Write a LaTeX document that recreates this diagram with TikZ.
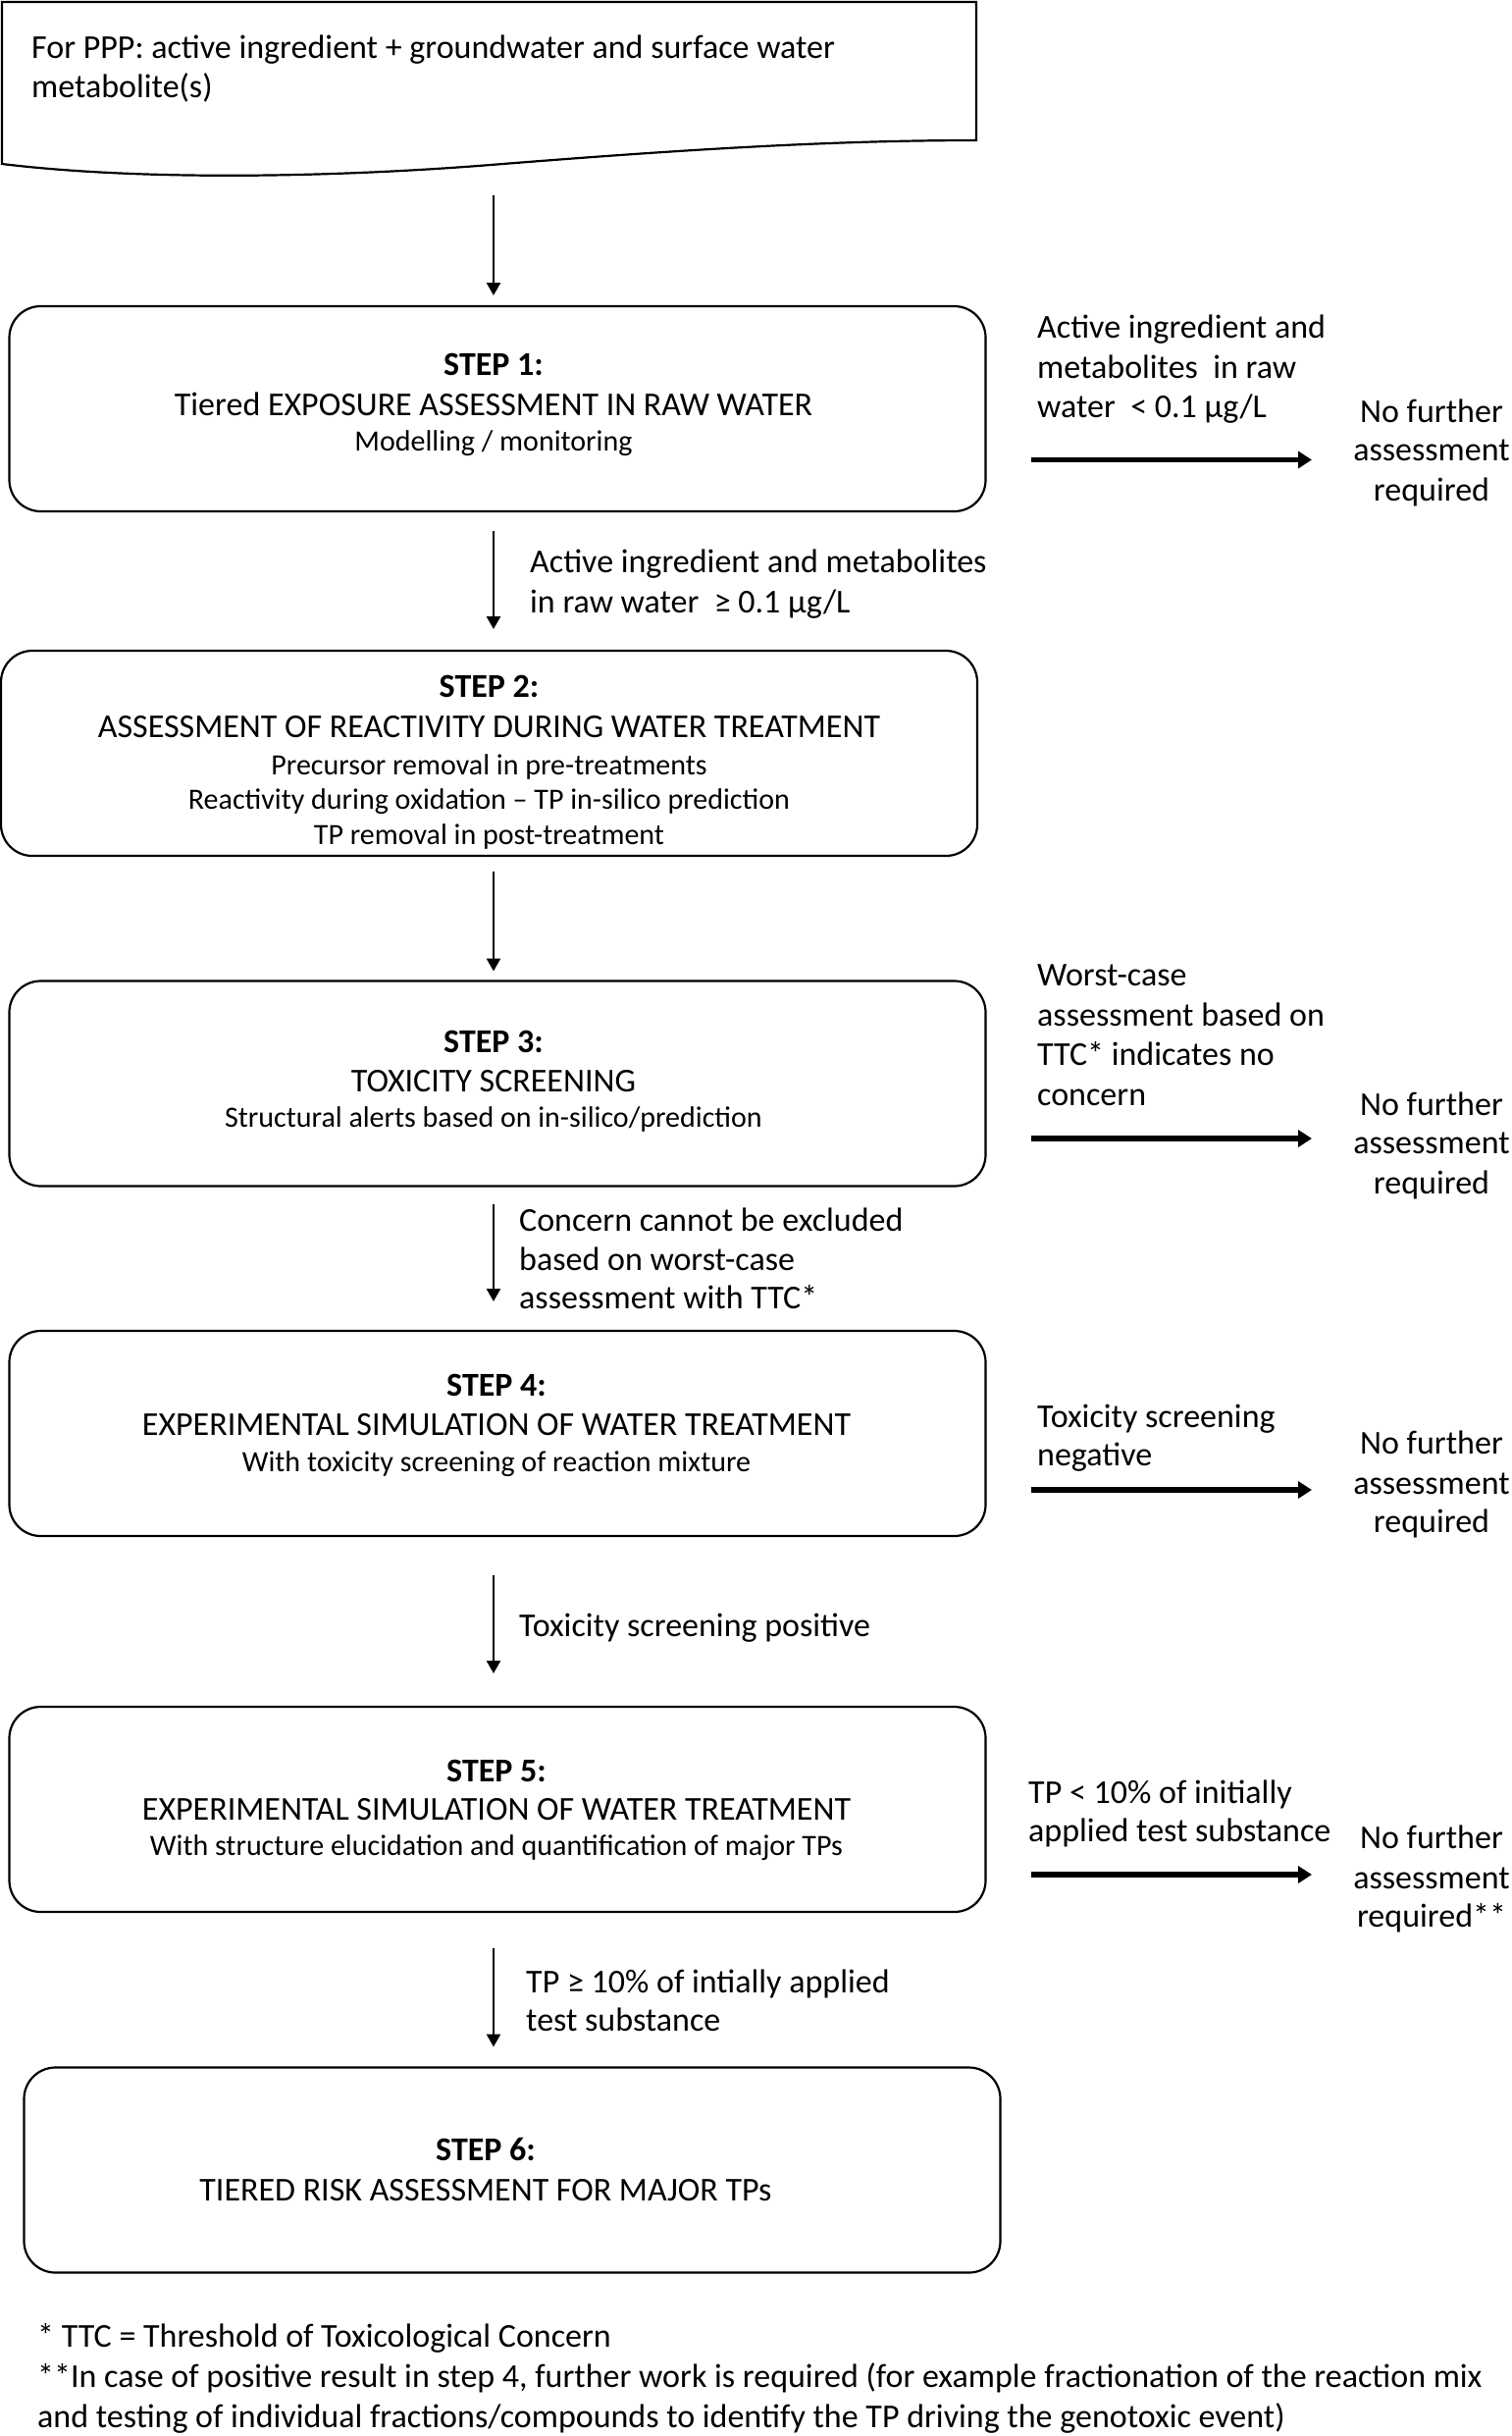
\documentclass[tikz,border=0pt]{standalone}
\usepackage{fontspec}
\setmainfont{Carlito}
\usetikzlibrary{arrows.meta}
\begin{document}
\begin{tikzpicture}[x=1pt,y=-1pt,
  big/.style={font=\fontsize{34}{40}\selectfont, inner sep=0pt},
  small/.style={font=\fontsize{30}{36}\selectfont, inner sep=0pt},
  cl/.style={anchor=base},
  ll/.style={anchor=base west},
  stepbox/.style={draw, line width=2.2pt, rounded corners=32pt, minimum width=995pt, minimum height=209pt, inner sep=0pt, outer sep=0pt},
  varr/.style={line width=2.5pt, -{Triangle[length=13pt,width=14pt]}},
  harr/.style={line width=5.5pt, -{Triangle[length=14pt,width=17pt]}},
]
\useasboundingbox[fill=white] (0,0) rectangle (1540,2482);

% document shape
\draw[line width=2.2pt] (2,2) -- (995,2) -- (995,143)
  .. controls (850,143) and (700,152) .. (500,168)
  .. controls (350,180) and (150,185) .. (2,167) -- cycle;
\coordinate (docb) at (503,199);
\coordinate (a1e) at (503,301);
\node[big,ll] (d1) at (32,59) {For PPP: active ingredient + groundwater and surface water};
\node[big,ll] (d2) at (32,99) {metabolite(s)};

\coordinate (ax) at (503,0);

% boxes
\node[stepbox] (b1) at (507,416.5) {};
\node[stepbox] (b2) at (498.5,767.5) {};
\node[stepbox] (b3) at (507,1104) {};
\node[stepbox] (b4) at (507,1460.5) {};
\node[stepbox] (b5) at (507,1843.5) {};
\node[stepbox] (b6) at (522,2211) {};

% box texts
\node[big,cl] (t1a) at (503,382) {\textbf{STEP 1:}};
\node[big,cl] (t1b) at (503,423) {Tiered EXPOSURE ASSESSMENT IN RAW WATER};
\node[small,cl] (t1c) at (503,459) {Modelling / monitoring};

\node[big,cl] (t2a) at (498.5,710) {\textbf{STEP 2:}};
\node[big,cl] (t2b) at (498.5,751) {ASSESSMENT OF REACTIVITY DURING WATER TREATMENT};
\node[small,cl] (t2c) at (498.5,789) {Precursor removal in pre-treatments};
\node[small,cl] (t2d) at (498.5,824) {Reactivity during oxidation – TP in-silico prediction};
\node[small,cl] (t2e) at (498.5,860) {TP removal in post-treatment};

\node[big,cl] (t3a) at (503,1072) {\textbf{STEP 3:}};
\node[big,cl] (t3b) at (503,1112) {TOXICITY SCREENING};
\node[small,cl] (t3c) at (503,1148) {Structural alerts based on in-silico/prediction};

\node[big,cl] (t4a) at (506,1422) {\textbf{STEP 4:}};
\node[big,cl] (t4b) at (506,1462) {EXPERIMENTAL SIMULATION OF WATER TREATMENT};
\node[small,cl] (t4c) at (506,1499) {With toxicity screening of reaction mixture};

\node[big,cl] (t5a) at (506,1815) {\textbf{STEP 5:}};
\node[big,cl] (t5b) at (506,1854) {EXPERIMENTAL SIMULATION OF WATER TREATMENT};
\node[small,cl] (t5c) at (506,1890) {With structure elucidation and quantification of major TPs};

\node[big,cl] (t6a) at (495,2201) {\textbf{STEP 6:}};
\node[big,cl] (t6b) at (495,2242) {TIERED RISK ASSESSMENT FOR MAJOR TPs};

% vertical arrows
\draw[varr] (docb) -- (a1e);
\draw[varr] ([yshift=-20pt]b1.south -| ax) -- ([yshift=22pt]b2.north -| ax);
\draw[varr] ([yshift=-16pt]b2.south -| ax) -- ([yshift=10pt]b3.north -| ax);
\draw[varr] ([yshift=-18pt]b3.south -| ax) -- ([yshift=30pt]b4.north -| ax);
\draw[varr] ([yshift=-40pt]b4.south -| ax) -- ([yshift=34pt]b5.north -| ax);
\draw[varr] ([yshift=-37pt]b5.south -| ax) -- ([yshift=21pt]b6.north -| ax);

% vertical arrow labels
\node[big,ll] (l2a) at (540,583) {Active ingredient and metabolites};
\node[big,ll] (l2b) at (540,624) {in raw water\ \ ≥ 0.1 µg/L};
\node[big,ll] (l4a) at (529,1254) {Concern cannot be excluded};
\node[big,ll] (l4b) at (529,1294) {based on worst-case};
\node[big,ll] (l4c) at (529,1333) {assessment with TTC*};
\node[big,ll] (l5a) at (529,1667) {Toxicity screening positive};
\node[big,ll] (l6a) at (536,2030) {TP ≥ 10\% of intially applied};
\node[big,ll] (l6b) at (536,2069) {test substance};

% right side labels
\node[big,ll] (r1a) at (1057,344) {Active ingredient and};
\node[big,ll] (r1b) at (1057,385) {metabolites\ \ in raw};
\node[big,ll] (r1c) at (1057,425) {water\ \ < 0.1 µg/L};

\node[big,ll] (r3a) at (1057,1004) {Worst-case};
\node[big,ll] (r3b) at (1057,1045) {assessment based on};
\node[big,ll] (r3c) at (1057,1085) {TTC* indicates no};
\node[big,ll] (r3d) at (1057,1126) {concern};

\node[big,ll] (r4a) at (1057,1454) {Toxicity screening};
\node[big,ll] (r4b) at (1057,1493) {negative};

\node[big,ll] (r5a) at (1048,1837) {TP < 10\% of initially};
\node[big,ll] (r5b) at (1048,1876) {applied test substance};

% No further
\node[big,cl] (n1a) at (1459,430) {No further};
\node[big,cl] (n1b) at (1459,469) {assessment};
\node[big,cl] (n1c) at (1459,510) {required};
\node[big,cl] (n3a) at (1459,1136) {No further};
\node[big,cl] (n3b) at (1459,1175) {assessment};
\node[big,cl] (n3c) at (1459,1216) {required};
\node[big,cl] (n4a) at (1459,1481) {No further};
\node[big,cl] (n4b) at (1459,1522) {assessment};
\node[big,cl] (n4c) at (1459,1561) {required};
\node[big,cl] (n5a) at (1459,1883) {No further};
\node[big,cl] (n5b) at (1459,1924) {assessment};
\node[big,cl] (n5c) at (1459,1963) {required**};

% horizontal arrows
\coordinate (h1s) at (1051,468.5); \coordinate (h1e) at (1337,468.5);
\coordinate (h3s) at (1051,1160);  \coordinate (h3e) at (1337,1160);
\coordinate (h4s) at (1051,1518);  \coordinate (h4e) at (1337,1518);
\coordinate (h5s) at (1051,1910);  \coordinate (h5e) at (1337,1910);
\draw[harr] (h1s) -- (h1e);
\draw[harr] (h3s) -- (h3e);
\draw[harr] (h4s) -- (h4e);
\draw[harr] (h5s) -- (h5e);

% footnotes
\node[big,ll] (f1) at (38,2391) {* TTC = Threshold of Toxicological Concern};
\node[big,ll] (f2) at (38,2432) {**In case of positive result in step 4, further work is required (for example fractionation of the reaction mix};
\node[big,ll] (f3) at (38,2473) {and testing of individual fractions/compounds to identify the TP driving the genotoxic event)};
\end{tikzpicture}
\end{document}
